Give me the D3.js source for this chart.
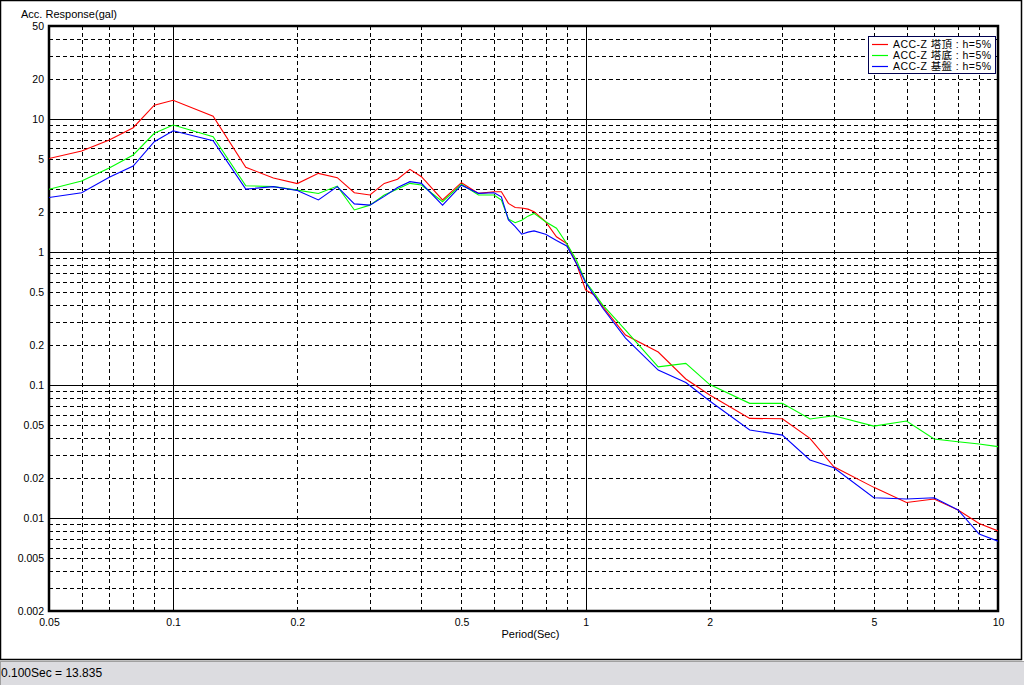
<!DOCTYPE html>
<html><head><meta charset="utf-8">
<script src="https://cdn.jsdelivr.net/npm/d3@7"></script>
<style>
html,body{margin:0;padding:0;background:#fff;}
svg text{font-family:"Liberation Sans",Arial,"Noto Sans CJK JP",sans-serif;fill:#000;}
</style></head>
<body><svg id="c" width="1024" height="685"></svg>
<script>
const periods = [0.05,0.06,0.07,0.08,0.09,0.1,0.125,0.15,0.175,0.2,0.225,0.25,0.275,0.3,0.325,0.35,0.375,0.4,0.45,0.5,0.55,0.6,0.625,0.65,0.675,0.7,0.725,0.75,0.8,0.85,0.9,0.95,1.0,1.05,1.1,1.25,1.5,1.75,2.0,2.5,3.0,3.5,4.0,5.0,6.0,7.0,8.0,9.0,10.0];
const towerTop = [5.04,5.74,6.95,8.6,12.7,13.835,10.5,4.33,3.6,3.27,3.9,3.62,2.79,2.68,3.28,3.52,4.18,3.68,2.46,3.32,2.76,2.84,2.84,2.32,2.16,2.14,2.1,2.01,1.69,1.30,1.16,0.82,0.518,0.475,0.388,0.2375,0.177,0.111,0.084,0.0561,0.0557,0.0397,0.0243,0.0170,0.0131,0.0139,0.0115,0.0091,0.0080];
const towerBase = [2.96,3.42,4.28,5.36,7.8,9.0,7.36,3.15,3.1,2.92,2.75,3.13,2.07,2.25,2.68,2.97,3.28,3.19,2.39,3.23,2.68,2.68,2.46,1.77,1.66,1.73,1.86,1.95,1.69,1.51,1.16,0.871,0.598,0.49,0.40,0.259,0.137,0.1455,0.1008,0.0728,0.0728,0.0555,0.0588,0.0491,0.0536,0.0393,0.0374,0.036,0.0344];
const bedrock = [2.57,2.79,3.64,4.43,6.75,8.16,6.86,2.97,3.1,2.9,2.46,3.1,2.3,2.25,2.62,3.05,3.38,3.28,2.25,3.18,2.76,2.79,2.6,1.74,1.55,1.36,1.41,1.44,1.36,1.22,1.11,0.82,0.589,0.47,0.379,0.2255,0.1296,0.1043,0.0758,0.0459,0.042,0.0273,0.0239,0.0142,0.0139,0.0142,0.0115,0.00758,0.0067];
const seriesNames = ["ACC-Z 塔頂 : h=5%","ACC-Z 塔底 : h=5%","ACC-Z 基盤 : h=5%"];
const seriesColors = ["#ff0000","#00ff00","#0000ff"];
const xTickValues = [0.05,0.1,0.2,0.5,1,2,5,10];
const xTickLabels = ["0.05","0.1","0.2","0.5","1","2","5","10"];
const yTickValues = [50,20,10,5,2,1,0.5,0.2,0.1,0.05,0.02,0.01,0.005,0.002];
const yTickLabels = ["50","20","10","5","2","1","0.5","0.2","0.1","0.05","0.02","0.01","0.005","0.002"];
const yTitle = "Acc. Response(gal)";
const xTitle = "Period(Sec)";
const statusPeriod = 0.1;

const svg = d3.select("#c");
const L=49,R=998,T=26,B=611;
const x = d3.scaleLog().domain([0.05,10]).range([L,R]);
const y = d3.scaleLog().domain([0.002,50]).range([B,T]);

// outer frame
svg.append("rect").attr("x",0.5).attr("y",0.5).attr("width",1021).attr("height",659)
  .attr("fill","#fff").attr("stroke","#000").attr("stroke-width",1.5);
// status bar
svg.append("rect").attr("x",0).attr("y",661).attr("width",1024).attr("height",24).attr("fill","#dcdce0");
svg.append("line").attr("x1",0).attr("x2",1024).attr("y1",661.5).attr("y2",661.5).attr("stroke","#a0a0a0");
svg.append("line").attr("x1",0.5).attr("x2",0.5).attr("y1",662).attr("y2",685).attr("stroke","#a0a0a0");
const idx = periods.indexOf(statusPeriod);
svg.append("text").attr("x",1).attr("y",677).attr("font-size",12)
  .text(d3.format(".3f")(statusPeriod)+"Sec = "+d3.format(".3f")(towerTop[idx]));

// grid
const g = svg.append("g");
const isMajor = v => Math.abs(Math.log10(v)-Math.round(Math.log10(v)))<1e-6;
const yGrid = y.ticks().filter(v=>v>0.002&&v<50);
const xGrid = x.ticks().filter(v=>v>0.05&&v<10);
g.selectAll(".hy").data(yGrid).join("line")
  .attr("x1",L).attr("x2",R).attr("y1",d=>Math.round(y(d))+0.5).attr("y2",d=>Math.round(y(d))+0.5)
  .attr("stroke","#000").attr("stroke-width",1)
  .attr("stroke-dasharray",d=>isMajor(d)?null:"4,3");
g.selectAll(".vx").data(xGrid).join("line")
  .attr("y1",T).attr("y2",B).attr("x1",d=>Math.round(x(d))+0.5).attr("x2",d=>Math.round(x(d))+0.5)
  .attr("stroke","#000").attr("stroke-width",1)
  .attr("stroke-dasharray",d=>isMajor(d)?null:"4,3");

// axes labels
const yAxis = d3.axisLeft(y).tickValues(yTickValues).tickFormat((d,i)=>yTickLabels[i]).tickSize(0).tickPadding(5);
const ya = svg.append("g").attr("transform",`translate(${L},0)`).call(yAxis);
ya.select(".domain").remove();
ya.selectAll("text").attr("font-size",10.5).attr("font-family",null);
const xAxis = d3.axisBottom(x).tickValues(xTickValues).tickFormat((d,i)=>xTickLabels[i]).tickSize(0).tickPadding(8);
const xa = svg.append("g").attr("transform",`translate(0,${B})`).call(xAxis);
xa.select(".domain").remove();
xa.selectAll("text").attr("font-size",10.5).attr("font-family",null);

svg.append("text").attr("x",21).attr("y",18).attr("font-size",11).text(yTitle);
svg.append("text").attr("x",(L+R)/2+7).attr("y",638).attr("text-anchor","middle").attr("font-size",11).text(xTitle);

// frame of plot
svg.append("rect").attr("x",L).attr("y",T).attr("width",R-L).attr("height",B-T)
  .attr("fill","none").attr("stroke","#000").attr("stroke-width",2.5);

// lines
const data = [towerTop,towerBase,bedrock];
const line = d3.line().x((d,i)=>x(periods[i])).y(d=>y(d));
svg.append("clipPath").attr("id","pc").append("rect").attr("x",L).attr("y",T).attr("width",R-L).attr("height",B-T);
svg.append("g").attr("clip-path","url(#pc)").selectAll("path").data(data).join("path")
  .attr("d",line).attr("fill","none").attr("stroke",(d,i)=>seriesColors[i]).attr("stroke-width",1.1);

// legend
const lg = svg.append("g");
lg.append("rect").attr("x",868.5).attr("y",36.5).attr("width",127).attr("height",37)
  .attr("fill","#fff").attr("stroke","#000050").attr("stroke-width",1);
seriesNames.forEach((n,i)=>{
  const yy = 44 + i*11;
  lg.append("line").attr("x1",872).attr("x2",888).attr("y1",yy+0.5).attr("y2",yy+0.5).attr("stroke",seriesColors[i]).attr("stroke-width",1.2);
  lg.append("text").attr("x",893).attr("y",yy+4).attr("font-size",10.5)
    .attr("textLength",98).attr("lengthAdjust","spacing").text(n);
});
</script></body></html>
